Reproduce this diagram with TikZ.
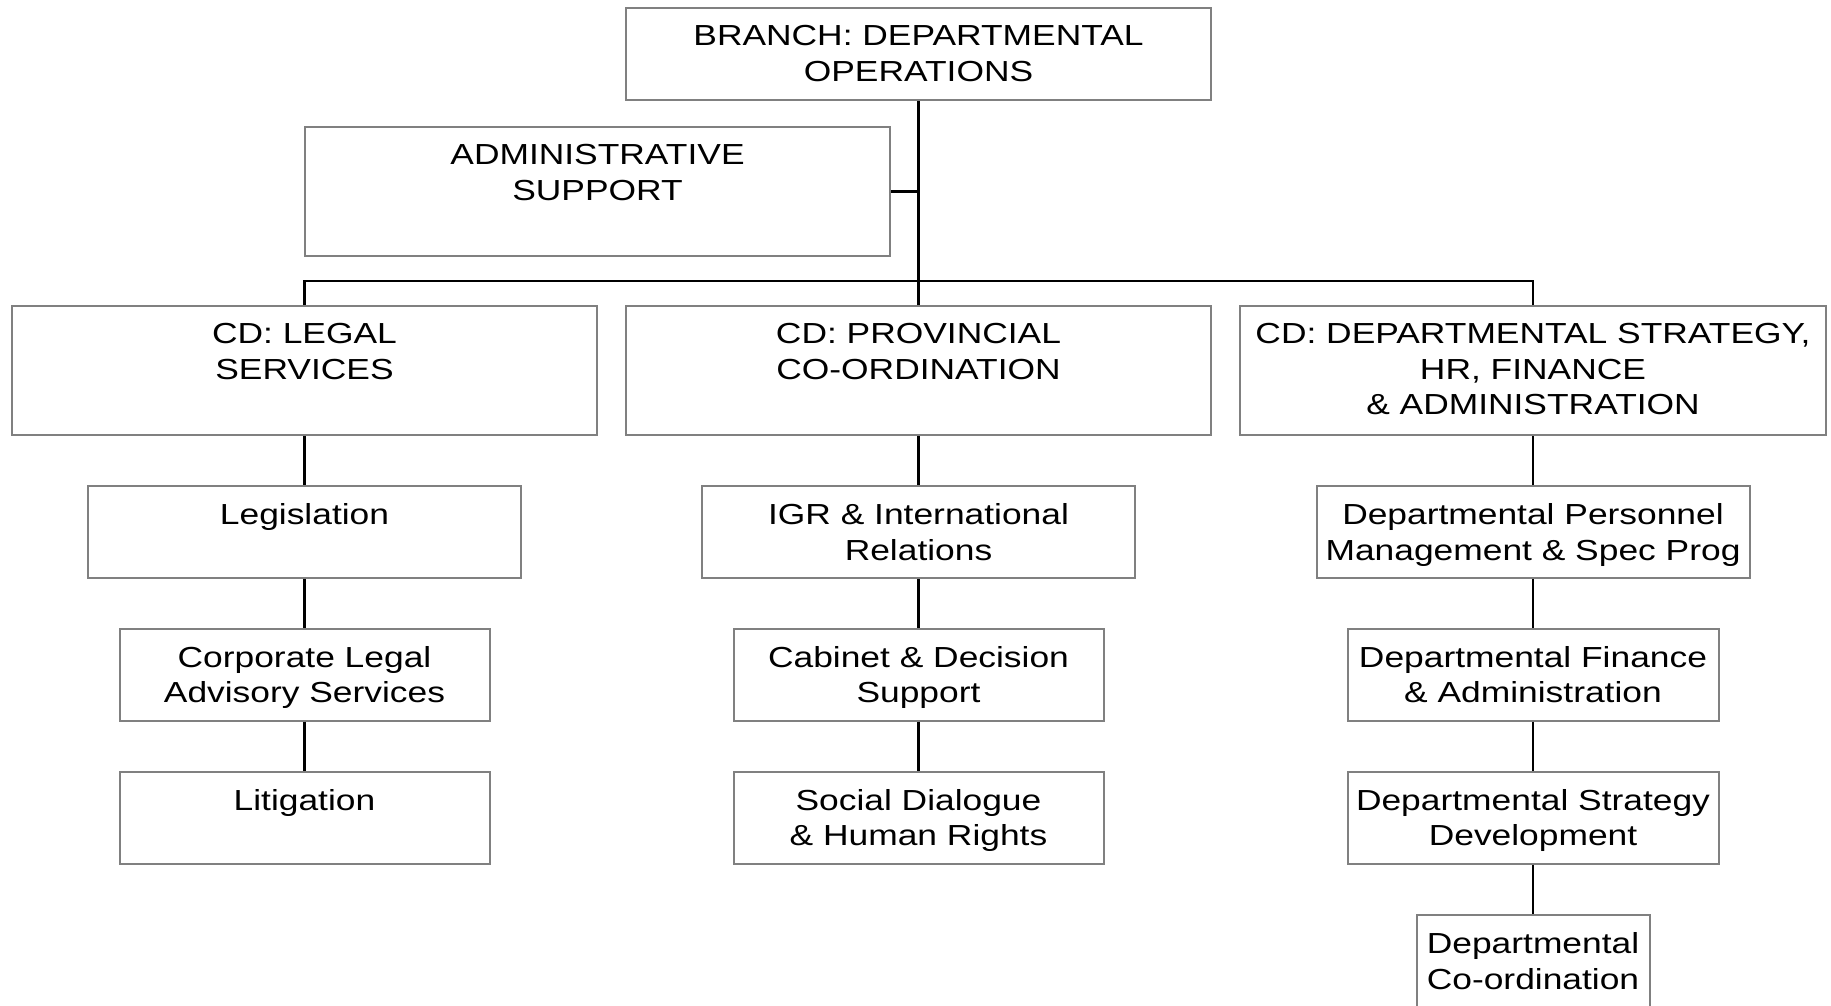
\documentclass[tikz,border=0pt]{standalone}
\usepackage{fontspec}
\setmainfont{Liberation Sans}[FakeStretch=1.22]
\usetikzlibrary{positioning}
\definecolor{boxgray}{RGB}{128,128,128}
\tikzset{
	unit/.style={draw=boxgray, line width=2pt, inner sep=0pt, minimum height=92pt},
	caption/.style={anchor=north, align=center, inner sep=0pt, yshift=-18.5pt, font=\fontsize{29}{35.5}\selectfont},
	link/.style={line width=2.3pt, black},
}

\begin{document}
\begin{tikzpicture}[x=1pt, y=-1pt]
		\useasboundingbox (0,0) rectangle (1831,1005);
		\coordinate (bus) at (0,281);
		% top of the tree
		\node[unit, minimum width=585pt, label={[caption]north:{BRANCH: DEPARTMENTAL\\OPERATIONS}}] (branch) at (918.5,54) {};
		\node[unit, minimum width=585pt, minimum height=129pt, label={[caption]north:{ADMINISTRATIVE\\SUPPORT}}] (admin) at (597.5,191.5) {};
		% chief directorates
		\node[unit, minimum width=585pt, minimum height=129pt, label={[caption]north:{CD: LEGAL\\SERVICES}}] (legal) at (304.5,370.5) {};
		\node[unit, minimum width=585pt, minimum height=129pt, label={[caption]north:{CD: PROVINCIAL\\CO-ORDINATION}}] (prov) at (918.5,370.5) {};
		\node[unit, minimum width=586pt, minimum height=129pt, label={[caption]north:{CD: DEPARTMENTAL STRATEGY,\\HR, FINANCE\\ \& ADMINISTRATION}}] (strat) at (1533,370.5) {};
		% legal services
		\node[unit, minimum width=433pt, label={[caption]north:{Legislation}}] (legis) at (304.5,532) {};
		\node[unit, minimum width=370pt, label={[caption]north:{Corporate Legal\\Advisory Services}}] (corp) at (304.5,674.5) {};
		\node[unit, minimum width=370pt, label={[caption]north:{Litigation}}] (litig) at (304.5,817.5) {};
		% provincial co-ordination
		\node[unit, minimum width=433pt, label={[caption]north:{IGR \& International\\Relations}}] (igr) at (918.5,532) {};
		\node[unit, minimum width=370pt, label={[caption]north:{Cabinet \& Decision\\Support}}] (cabinet) at (918.5,674.5) {};
		\node[unit, minimum width=370pt, label={[caption]north:{Social Dialogue\\\& Human Rights}}] (social) at (918.5,817.5) {};
		% strategy, hr, finance
		\node[unit, minimum width=433pt, label={[caption]north:{Departmental Personnel\\Management \& Spec Prog}}] (person) at (1533,532) {};
		\node[unit, minimum width=371pt, label={[caption]north:{Departmental Finance\\\& Administration}}] (finance) at (1533,674.5) {};
		\node[unit, minimum width=371pt, label={[caption]north:{Departmental Strategy\\Development}}] (develop) at (1533,817.5) {};
		\node[unit, minimum width=233pt, label={[caption]north:{Departmental\\Co-ordination}}] (coord) at (1533,961) {};
		
		\draw[link] (branch.south) -- (branch.south |- bus);
		\draw[link] (admin.east) -- (admin.east -| branch.south);
		\draw[link] (legal.north) -- (legal.north |- bus) -- (strat.north |- bus) -- (strat.north);
		\draw[link] (prov.north) -- (prov.north |- bus);
		\draw[link] (legal) -- (legis) -- (corp) -- (litig);
		\draw[link] (prov) -- (igr) -- (cabinet) -- (social);
		\draw[link] (strat) -- (person) -- (finance) -- (develop) -- (coord);
	\end{tikzpicture}
\end{document}
